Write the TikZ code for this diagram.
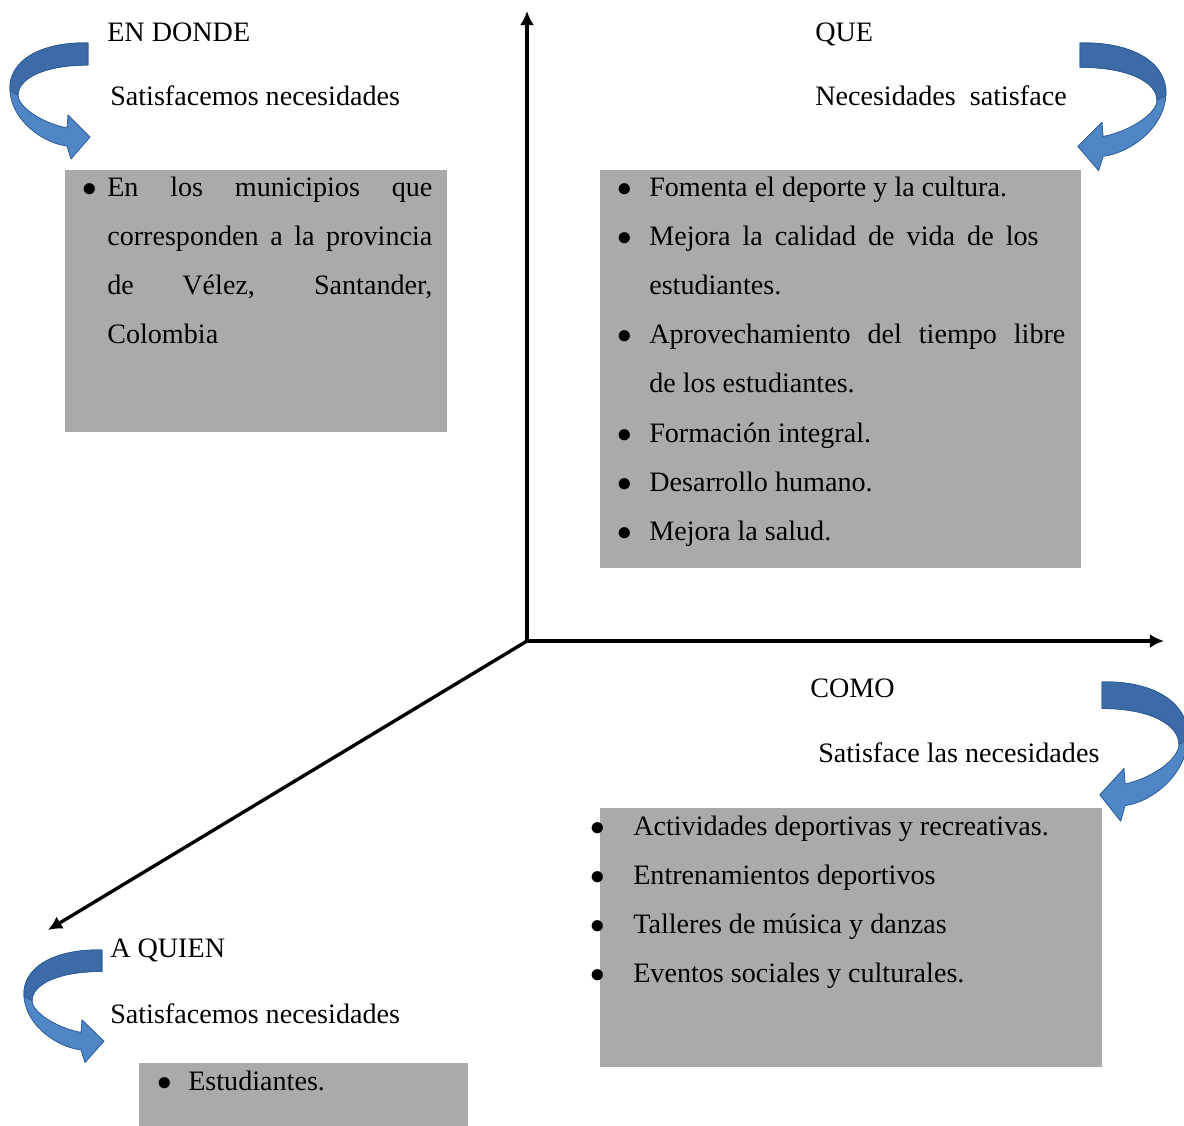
\documentclass[tikz,border=0pt]{standalone}
\usepackage{fontspec}
\setmainfont{Liberation Serif}
\usepackage{tikz}
\usepackage{xcolor}
\usetikzlibrary{arrows.meta,fit}

\definecolor{boxgray}{HTML}{AAAAAA}
\definecolor{curllight}{HTML}{4F86C6}
\definecolor{curldark}{HTML}{3D6BA8}
\definecolor{curledge}{HTML}{2F5E96}

\newlength\bulind
% first bullet of a list, and the ones after it
\newcommand\bul{\noindent\hangindent=\bulind\hangafter=1\makebox[\bulind][l]{$\bullet$}}
\newcommand\itm{\par\bul}

\tikzset{
	curl/.pic={
		\filldraw[fill=curllight,draw=curledge,line width=0.6pt,line join=round]
			(0,0) .. controls (-48,-1) and (-80,18) .. (-78,48)
			.. controls (-76,78) and (-45,100) .. (-21,103)
			-- (-17,116) -- (2,94) -- (-20,72) -- (-21,85)
			.. controls (-46,80) and (-70,64) .. (-70,52)
			.. controls (-70,36) and (-45,22) .. (0,22) -- cycle;
		\filldraw[fill=curldark,draw=curledge,line width=0.6pt,line join=round]
			(0,0) .. controls (-48,-1) and (-80,18) .. (-78,48) -- (-70,52)
			.. controls (-70,36) and (-45,22) .. (0,22) -- cycle;
	},
	bind/.code={\setlength\bulind{#1}}
}

\tolerance=10000
\hyphenpenalty=10000

\begin{document}
\begin{tikzpicture}[x=0.025cm,y=-0.025cm,>={Latex[length=10pt,width=10pt]}]
	\tikzstyle{axis}=[line width=2.4pt,->]
	\tikzstyle{graybox}=[fill=boxgray,inner sep=0pt]
	\tikzstyle{head}=[inner sep=0pt,anchor=base west,font=\fontsize{20}{24}\selectfont]
	\tikzstyle{bullets}=[inner sep=0pt,anchor=base west,align=justify,text width=#1,font=\fontsize{20}{35}\selectfont]
	\useasboundingbox (0,0) rectangle (1184,1125);
	\clip (0,0) rectangle (1184,1125);
	% axes
	\coordinate (o) at (527,641);
	\coordinate (yend) at (527,11);
	\coordinate (xend) at (1164,641);
	\coordinate (dend) at (48,930);
	\draw[axis] (o) -- (yend);
	\draw[axis] (o) -- (xend);
	\draw[axis] (o) -- (dend);
	% gray boxes
	\node[graybox,fit={(65,170) (447,432)}] (endonde) {};
	\node[graybox,fit={(600,170) (1081,568)}] (que) {};
	\node[graybox,fit={(600,808) (1102,1067)}] (como) {};
	\node[graybox,fit={(139,1063) (468,1140)}] (aquien) {};
	% curled arrows
	\pic at (88,43) {curl};
	\pic[xscale=-1.1,yscale=1.1] at (1080,43) {curl};
	\pic[xscale=-1.1,yscale=1.2] at (1102,682) {curl};
	\pic[yscale=0.97] at (102,950) {curl};
	% headings
	\node[head] (endondeT) at (107,41) {EN DONDE};
	\node[head] (endondeS) at (110,105) {Satisfacemos necesidades};
	\node[head] (queT) at (815,41) {QUE};
	\node[head] (queS) at (815,105) {Necesidades\ \ satisface};
	\node[head] (comoT) at (810,697) {COMO};
	\node[head] (comoS) at (818,762) {Satisface las necesidades};
	\node[head] (aquienT) at (110,957) {A QUIEN};
	\node[head] (aquienS) at (110,1023) {Satisfacemos necesidades};
	% box texts
	\node[bullets=87.5mm,bind=6.25mm] (endondeL) at (82,196) {%
		\bul En los municipios que\linebreak corresponden a la provincia\linebreak de Vélez, Santander,\linebreak Colombia\par};
	\node[bullets=112mm,bind=8mm] (queL) at (617,196) {%
		\bul Fomenta el deporte y la cultura.
		\itm \makebox[97.3mm][s]{Mejora la calidad de vida de los}\newline estudiantes.
		\itm Aprovechamiento del tiempo libre\linebreak de los estudiantes.
		\itm Formación integral.
		\itm Desarrollo humano.
		\itm Mejora la salud.\par};
	\node[bullets=127.5mm,bind=10.75mm] (comoL) at (590,835) {%
		\bul Actividades deportivas y recreativas.
		\itm Entrenamientos deportivos
		\itm Talleres de música y danzas
		\itm Eventos sociales y culturales.\par};
	\node[bullets=75.75mm,bind=7.75mm] (aquienL) at (157,1090) {%
		\bul Estudiantes.\par};
\end{tikzpicture}
\end{document}
